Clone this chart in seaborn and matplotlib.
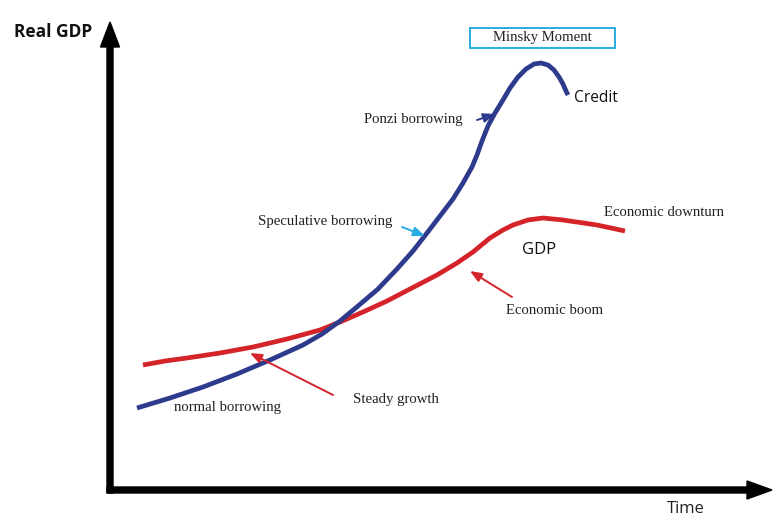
import matplotlib
matplotlib.use("Agg")
import matplotlib.pyplot as plt
import seaborn as sns
import pandas as pd
from matplotlib.patches import Rectangle

# Curves (time units from the origin, level units from the origin)
credit_time = [27, 60, 93, 127, 160, 193, 212, 230, 248, 268, 287, 303, 317, 330, 343, 353,
               362, 367, 372, 378, 385, 393, 400, 408, 416, 424, 431, 438, 444, 449, 453, 456, 458]
credit_level = [82, 92, 103, 116, 130, 145, 156, 169, 184, 201, 221, 239, 257, 274, 291, 307,
                323, 335, 349, 364, 377, 390, 402, 413, 421, 426, 427, 425, 420, 413, 406, 399, 395]

gdp_time = [33, 55, 77, 110, 143, 177, 210, 230, 253, 277, 300, 327, 347, 363, 380, 393,
            403, 418, 433, 453, 487, 515]
gdp_level = [125, 129, 132, 137, 143, 151, 160, 168, 178, 189, 201, 215, 227, 238, 252, 260,
             265, 270, 272, 270, 265, 259]

BLUE = "#2E3A8C"
RED = "#D4242A"
CYAN = "#29ABE2"

sns.set_theme(style="white")
plt.rcParams["font.family"] = ["DejaVu Sans"]

fig = plt.figure(figsize=(7.79, 5.22), dpi=100)
ax = fig.add_axes([0, 0, 1, 1])

credit_df = pd.DataFrame({"time": credit_time, "level": credit_level})
gdp_df = pd.DataFrame({"time": gdp_time, "level": gdp_level})

sns.lineplot(data=gdp_df, x="time", y="level", sort=False, ax=ax, color=RED,
             linewidth=3.4, solid_capstyle="butt", solid_joinstyle="round")
sns.lineplot(data=credit_df, x="time", y="level", sort=False, ax=ax, color=BLUE,
             linewidth=3.4, solid_capstyle="butt", solid_joinstyle="round")

ax.set_xlim(-110, 669)
ax.set_ylim(-32, 490)
ax.axis("off")

# Axes with arrows
ax.arrow(0, -3, 0, 471, width=6, head_width=19, head_length=25,
         length_includes_head=True, color="black", zorder=5)
ax.arrow(-3, 0, 665, 0, width=6, head_width=18, head_length=25,
         length_includes_head=True, color="black", zorder=5)

sans = ["Open Sans", "DejaVu Sans"]
serif = ["Liberation Serif", "DejaVu Serif"]
SER = 10.6

ax.text(-57, 458, "Real GDP", family=sans, fontsize=12.5, fontweight="bold",
        ha="center", va="center", color="#111111")
ax.text(576, -19, "Time", family=sans, fontsize=12, ha="center", va="center", color="#222222")
ax.text(486, 392, "Credit", family=sans, fontsize=11.2, ha="center", va="center", color="#111111")
ax.text(429, 240, "GDP", family=sans, fontsize=12, ha="center", va="center", color="#111111")

ax.add_patch(Rectangle((360, 442), 145, 20, fill=False, edgecolor=CYAN, linewidth=1.4))
ax.text(432, 453, "Minsky Moment", family=serif, fontsize=SER, ha="center", va="center", color="#222222")
ax.text(303, 370, "Ponzi borrowing", family=serif, fontsize=SER, ha="center", va="center", color="#222222")
ax.text(215, 268, "Speculative borrowing", family=serif, fontsize=SER, ha="center", va="center", color="#222222")
ax.text(554, 278, "Economic downturn", family=serif, fontsize=SER, ha="center", va="center", color="#222222")
ax.text(445, 180, "Economic boom", family=serif, fontsize=SER, ha="center", va="center", color="#222222")
ax.text(286, 91, "Steady growth", family=serif, fontsize=SER, ha="center", va="center", color="#222222")
ax.text(118, 82, "normal borrowing", family=serif, fontsize=SER, ha="center", va="center", color="#222222")

def pointer(tail, head, color):
    ax.annotate("", xy=head, xytext=tail,
                arrowprops=dict(arrowstyle="-|>,head_length=0.7,head_width=0.28",
                                color=color, lw=1.4, mutation_scale=10,
                                shrinkA=0, shrinkB=0))

pointer((367, 370), (385, 376), BLUE)
pointer((292, 263), (315, 254), CYAN)
pointer((402, 193), (360, 219), RED)
pointer((223, 95), (140, 137), RED)

fig.savefig("out.png", dpi=100, facecolor="white")
